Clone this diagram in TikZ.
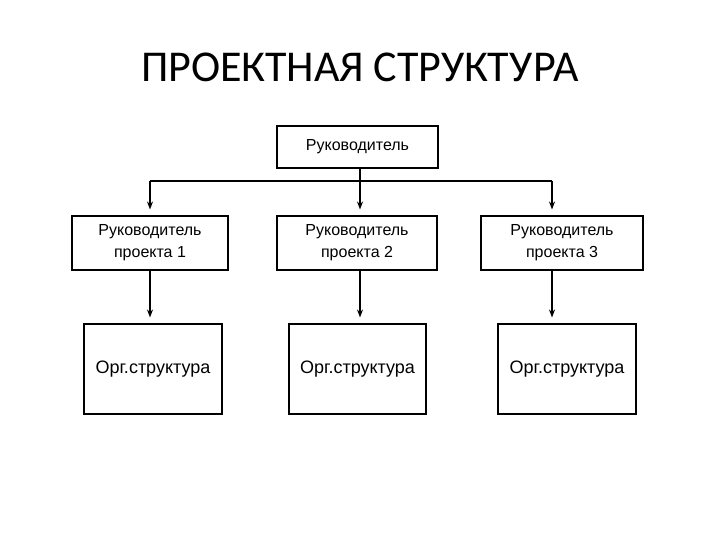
\documentclass[tikz,border=0pt]{standalone}
\usepackage{fontspec}
\setmainfont{Liberation Sans}
\newfontfamily\titlefont{Carlito}
\usetikzlibrary{arrows.meta}
\tikzset{
  box/.style={draw, line width=0.8pt, align=center, inner sep=0pt, font=\fontsize{12pt}{16.5pt}\selectfont},
  orgbox/.style={box, font=\fontsize{13.5pt}{16pt}\selectfont},
  arr/.style={line width=1.1pt, -{Stealth[length=6pt,width=4.5pt]}, shorten >=4.5pt},
  link/.style={line width=1.1pt}
}
\begin{document}
\begin{tikzpicture}[x=0.75pt,y=-0.75pt]
\useasboundingbox (0,0) rectangle (720,540);
\node (title) at (360,67) {\titlefont\fontsize{33pt}{38pt}\selectfont ПРОЕКТНАЯ СТРУКТУРА};
\node[box, minimum width=120.75pt, minimum height=31.5pt] (top) at (357.5,147) {Руководитель};
\node[box, minimum width=117pt, minimum height=40.5pt] (r1) at (150,243) {Руководитель\\проекта 1};
\node[box, minimum width=120pt, minimum height=40.5pt] (r2) at (357,243) {Руководитель\\проекта 2};
\node[box, minimum width=121.5pt, minimum height=40.5pt] (r3) at (562,243) {Руководитель\\проекта 3};
\node[orgbox, minimum width=103.5pt, minimum height=67.5pt] (o1) at (153,369) {Орг.структура};
\node[orgbox, minimum width=102.75pt, minimum height=67.5pt] (o2) at (357.5,369) {Орг.структура};
\node[orgbox, minimum width=103.5pt, minimum height=67.5pt] (o3) at (567,369) {Орг.структура};
\coordinate (bus1) at (150,181);
\coordinate (bus2) at (360,181);
\coordinate (bus3) at (552,181);
\draw[link] (bus1) -- (bus3);
\draw[arr] (top.south -| bus2) -- (bus2 |- r2.north);
\draw[arr] (bus1) -- (bus1 |- r1.north);
\draw[arr] (bus3) -- (bus3 |- r3.north);
\draw[arr] (r1.south -| bus1) -- (o1.north -| bus1);
\draw[arr] (r2.south -| bus2) -- (o2.north -| bus2);
\draw[arr] (r3.south -| bus3) -- (o3.north -| bus3);
\end{tikzpicture}
\end{document}
